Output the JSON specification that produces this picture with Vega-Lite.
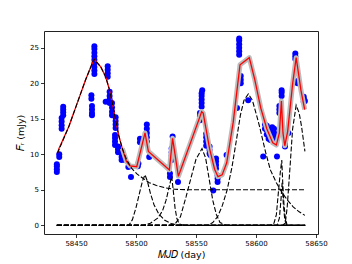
{
 "$schema": "https://vega.github.io/schema/vega-lite/v6.json",
 "width": 274,
 "height": 203,
 "autosize": {"type": "none"},
 "padding": {"left": 44, "top": 31, "right": 34, "bottom": 30},
 "background": "white",
 "config": {
  "view": {"stroke": "#222", "strokeWidth": 1},
  "font": "DejaVu Sans",
  "axis": {"grid": false, "domain": false, "tickColor": "#000", "tickSize": 3.5, "tickWidth": 0.8, "labelFont": "DejaVu Sans", "labelFontSize": 7, "labelColor": "#000", "labelPadding": 2, "titleFont": "DejaVu Sans", "titleFontSize": 9.5, "titleFontWeight": "normal", "titleColor": "#000"}
 },
 "datasets": {
  "obs": [
   {"mjd":58434,"f":7.5},{"mjd":58434,"f":7.9},{"mjd":58434,"f":8.3},{"mjd":58434,"f":8.6},
   {"mjd":58436,"f":9.6},{"mjd":58436,"f":10.0},
   {"mjd":58438,"f":13.6},{"mjd":58438,"f":14.1},{"mjd":58438,"f":14.6},{"mjd":58438,"f":15.1},
   {"mjd":58439.3,"f":15.5},{"mjd":58439.3,"f":15.9},{"mjd":58439.3,"f":16.3},{"mjd":58439.3,"f":16.7},
   {"mjd":58462.8,"f":17.8},{"mjd":58462.8,"f":18.3},
   {"mjd":58463.3,"f":15.5},{"mjd":58463.3,"f":15.8},{"mjd":58463.3,"f":16.3},{"mjd":58463.3,"f":16.8},
   {"mjd":58465.3,"f":21.3},{"mjd":58465.3,"f":21.8},{"mjd":58465.3,"f":22.3},{"mjd":58465.3,"f":22.8},{"mjd":58465.3,"f":23.3},{"mjd":58465.3,"f":23.8},{"mjd":58465.3,"f":24.3},{"mjd":58465.3,"f":24.8},{"mjd":58465.3,"f":25.2},
   {"mjd":58474.7,"f":17.4},
   {"mjd":58476.4,"f":20.9},{"mjd":58476.4,"f":21.4},{"mjd":58476.4,"f":21.9},{"mjd":58476.4,"f":22.4},
   {"mjd":58478,"f":17.2},{"mjd":58478,"f":17.7},{"mjd":58478,"f":18.2},{"mjd":58478,"f":18.8},
   {"mjd":58480,"f":15.5},{"mjd":58480,"f":16.0},{"mjd":58480,"f":16.6},{"mjd":58480,"f":17.2},
   {"mjd":58483,"f":13.7},{"mjd":58483,"f":14.2},{"mjd":58483,"f":14.7},{"mjd":58483,"f":15.2},
   {"mjd":58482.5,"f":11.3},{"mjd":58482.5,"f":11.8},{"mjd":58482.5,"f":12.3},{"mjd":58482.5,"f":12.7},
   {"mjd":58485,"f":10.3},{"mjd":58485,"f":10.7},{"mjd":58485,"f":11.1},
   {"mjd":58488,"f":9.2},{"mjd":58488,"f":9.6},{"mjd":58488,"f":10.1},
   {"mjd":58490.8,"f":9.2},
   {"mjd":58493.6,"f":8.2},
   {"mjd":58495.8,"f":6.8},
   {"mjd":58501.5,"f":8.3},{"mjd":58502,"f":8.7},
   {"mjd":58503.3,"f":11.7},{"mjd":58503.3,"f":12.2},
   {"mjd":58509,"f":11.8},{"mjd":58509,"f":12.4},{"mjd":58509,"f":13.0},{"mjd":58509,"f":13.6},{"mjd":58509,"f":14.2},
   {"mjd":58511,"f":9.6},
   {"mjd":58528.3,"f":6.8},{"mjd":58528.3,"f":7.3},
   {"mjd":58529.7,"f":9.2},{"mjd":58529.7,"f":9.8},{"mjd":58529.7,"f":10.3},{"mjd":58529.7,"f":10.8},
   {"mjd":58530.5,"f":12.5},
   {"mjd":58535,"f":6.1},
   {"mjd":58553.3,"f":14.8},{"mjd":58553.3,"f":15.3},{"mjd":58553.3,"f":15.8},
   {"mjd":58554.7,"f":16.7},{"mjd":58554.7,"f":17.2},{"mjd":58554.7,"f":17.7},{"mjd":58554.7,"f":18.2},{"mjd":58554.7,"f":18.6},
   {"mjd":58555.2,"f":19.0},
   {"mjd":58558.5,"f":11.2},{"mjd":58558.5,"f":11.8},{"mjd":58558.5,"f":12.4},{"mjd":58558.5,"f":12.9},
   {"mjd":58561.3,"f":10.1},{"mjd":58561.3,"f":10.6},{"mjd":58561.3,"f":11.1},
   {"mjd":58562,"f":9.9},
   {"mjd":58564.4,"f":4.9},
   {"mjd":58566.7,"f":8.0},{"mjd":58566.7,"f":8.5},{"mjd":58566.7,"f":9.0},{"mjd":58566.7,"f":9.4},
   {"mjd":58568,"f":6.1},{"mjd":58568,"f":6.6},{"mjd":58568,"f":7.0},
   {"mjd":58575.5,"f":9.9},
   {"mjd":58584.2,"f":16.5},
   {"mjd":58586,"f":24.0},{"mjd":58586,"f":24.5},{"mjd":58586,"f":25.0},{"mjd":58586,"f":25.5},{"mjd":58586,"f":26.0},{"mjd":58586,"f":26.3},
   {"mjd":58587.3,"f":20.0},{"mjd":58587.3,"f":20.5},{"mjd":58587.3,"f":21.0},
   {"mjd":58593.5,"f":17.6},
   {"mjd":58606,"f":9.7},
   {"mjd":58607.5,"f":13.6},{"mjd":58607.5,"f":14.2},
   {"mjd":58609,"f":12.8},{"mjd":58609,"f":13.4},{"mjd":58609,"f":14.0},
   {"mjd":58610.5,"f":12.2},{"mjd":58610.5,"f":12.8},{"mjd":58610.5,"f":13.4},
   {"mjd":58612,"f":12.0},{"mjd":58612,"f":12.6},{"mjd":58612,"f":13.2},
   {"mjd":58613.5,"f":12.0},{"mjd":58613.5,"f":12.6},{"mjd":58613.5,"f":13.2},{"mjd":58613.5,"f":13.8},
   {"mjd":58615,"f":11.8},{"mjd":58615,"f":12.4},{"mjd":58615,"f":13.0},{"mjd":58615,"f":13.6},
   {"mjd":58616.3,"f":12.2},{"mjd":58616.3,"f":12.8},
   {"mjd":58617.5,"f":9.7},
   {"mjd":58619.5,"f":15.8},{"mjd":58619.5,"f":16.3},{"mjd":58619.5,"f":16.8},
   {"mjd":58621.4,"f":18.2},{"mjd":58621.4,"f":18.7},{"mjd":58621.4,"f":19.0},
   {"mjd":58624.2,"f":11.1},{"mjd":58624.2,"f":11.6},{"mjd":58624.2,"f":12.1},{"mjd":58624.2,"f":12.6},{"mjd":58624.2,"f":13.0},
   {"mjd":58627,"f":13.0},
   {"mjd":58632.8,"f":23.4},{"mjd":58632.8,"f":23.8},{"mjd":58632.8,"f":24.2},
   {"mjd":58634.6,"f":20.0},{"mjd":58634.6,"f":20.3},
   {"mjd":58639.8,"f":17.4},{"mjd":58639.8,"f":17.8},{"mjd":58639.8,"f":18.1},
   {"mjd":58640.8,"f":17.5}
  ],
  "model": [
   {"mjd":58434.4,"f":10.1},{"mjd":58435.8,"f":10.8},{"mjd":58444,"f":13.9},{"mjd":58451,"f":17.2},{"mjd":58458,"f":20.5},{"mjd":58465,"f":23.4},{"mjd":58470.6,"f":22.3},{"mjd":58474.7,"f":20.9},{"mjd":58477.5,"f":19.3},{"mjd":58480.3,"f":17.2},{"mjd":58483,"f":14.8},{"mjd":58485.8,"f":12.5},{"mjd":58488.6,"f":10.8},{"mjd":58492,"f":9.0},{"mjd":58495,"f":8.35},{"mjd":58500.6,"f":8.25},{"mjd":58507.5,"f":13.0},{"mjd":58510.3,"f":10.4},{"mjd":58527.8,"f":7.8},{"mjd":58530.5,"f":12.25},{"mjd":58535.3,"f":6.9},{"mjd":58553.3,"f":15.3},{"mjd":58554.7,"f":16.0},{"mjd":58556,"f":15.8},{"mjd":58561.3,"f":10.8},{"mjd":58565.5,"f":7.9},{"mjd":58568.3,"f":6.85},{"mjd":58571.8,"f":7.1},{"mjd":58575.6,"f":8.8},{"mjd":58581,"f":14.5},{"mjd":58586.7,"f":22.6},{"mjd":58594.4,"f":23.6},{"mjd":58599,"f":20.5},{"mjd":58604,"f":16.5},{"mjd":58609,"f":13.6},{"mjd":58614,"f":11.6},{"mjd":58617,"f":11.3},{"mjd":58619.5,"f":13.0},{"mjd":58621.2,"f":17.5},{"mjd":58622.5,"f":13.0},{"mjd":58624,"f":11.2},{"mjd":58626.4,"f":13.2},{"mjd":58630.6,"f":20.0},{"mjd":58633.5,"f":23.6},{"mjd":58637.5,"f":19.0},{"mjd":58640.6,"f":16.3}
  ],
  "comp": [
   {"c":"c0","mjd":58434,"f":0},{"c":"c0","mjd":58641,"f":0},
   {"c":"c1","mjd":58434.4,"f":10.1},{"c":"c1","mjd":58444,"f":13.9},{"c":"c1","mjd":58451,"f":17.2},{"c":"c1","mjd":58458,"f":20.5},{"c":"c1","mjd":58465,"f":23.4},{"c":"c1","mjd":58470.6,"f":22.3},{"c":"c1","mjd":58474.7,"f":20.9},{"c":"c1","mjd":58477.5,"f":19.3},{"c":"c1","mjd":58480.3,"f":17.2},{"c":"c1","mjd":58483,"f":14.8},{"c":"c1","mjd":58485.8,"f":12.5},{"c":"c1","mjd":58488.6,"f":10.8},{"c":"c1","mjd":58492,"f":9.3},{"c":"c1","mjd":58496.4,"f":8.0},{"c":"c1","mjd":58501,"f":7.2},{"c":"c1","mjd":58506,"f":6.6},{"c":"c1","mjd":58511,"f":6.0},{"c":"c1","mjd":58517,"f":5.6},{"c":"c1","mjd":58525,"f":5.25},{"c":"c1","mjd":58532.5,"f":5.07},{"c":"c1","mjd":58545,"f":5.0},{"c":"c1","mjd":58640.5,"f":5.0},
   {"c":"c2","mjd":58434,"f":0},{"c":"c2","mjd":58494,"f":0},{"c":"c2","mjd":58497,"f":0.8},{"c":"c2","mjd":58500,"f":2.5},{"c":"c2","mjd":58503,"f":4.6},{"c":"c2","mjd":58505.5,"f":6.3},{"c":"c2","mjd":58507.5,"f":7.1},{"c":"c2","mjd":58509.5,"f":6.2},{"c":"c2","mjd":58512,"f":4.5},{"c":"c2","mjd":58515,"f":2.9},{"c":"c2","mjd":58519,"f":1.6},{"c":"c2","mjd":58524,"f":0.7},{"c":"c2","mjd":58530,"f":0.2},{"c":"c2","mjd":58536,"f":0},{"c":"c2","mjd":58641,"f":0},
   {"c":"c3","mjd":58434,"f":0},{"c":"c3","mjd":58506,"f":0},{"c":"c3","mjd":58512,"f":0.3},{"c":"c3","mjd":58518,"f":1.0},{"c":"c3","mjd":58522,"f":2.0},{"c":"c3","mjd":58525,"f":3.5},{"c":"c3","mjd":58527.5,"f":5.3},{"c":"c3","mjd":58529.7,"f":6.9},{"c":"c3","mjd":58531,"f":5.0},{"c":"c3","mjd":58532.5,"f":2.5},{"c":"c3","mjd":58534,"f":1.0},{"c":"c3","mjd":58536,"f":0.2},{"c":"c3","mjd":58540,"f":0},{"c":"c3","mjd":58641,"f":0},
   {"c":"c4","mjd":58434,"f":0},{"c":"c4","mjd":58528,"f":0},{"c":"c4","mjd":58533,"f":0.3},{"c":"c4","mjd":58537,"f":1.2},{"c":"c4","mjd":58541.7,"f":4.0},{"c":"c4","mjd":58546,"f":6.8},{"c":"c4","mjd":58550,"f":9.3},{"c":"c4","mjd":58555,"f":10.8},{"c":"c4","mjd":58558,"f":9.5},{"c":"c4","mjd":58561,"f":6.5},{"c":"c4","mjd":58564,"f":3.5},{"c":"c4","mjd":58567,"f":1.5},{"c":"c4","mjd":58570,"f":0.4},{"c":"c4","mjd":58575,"f":0},{"c":"c4","mjd":58641,"f":0},
   {"c":"c5","mjd":58434,"f":0},{"c":"c5","mjd":58560,"f":0},{"c":"c5","mjd":58564,"f":0.4},{"c":"c5","mjd":58568,"f":1.2},{"c":"c5","mjd":58572,"f":2.8},{"c":"c5","mjd":58576,"f":5.0},{"c":"c5","mjd":58580,"f":8.2},{"c":"c5","mjd":58583.5,"f":11.8},{"c":"c5","mjd":58587,"f":15.5},{"c":"c5","mjd":58590,"f":17.6},{"c":"c5","mjd":58593.6,"f":18.5},{"c":"c5","mjd":58597,"f":17.6},{"c":"c5","mjd":58600,"f":15.8},{"c":"c5","mjd":58603,"f":13.9},{"c":"c5","mjd":58608,"f":10.3},{"c":"c5","mjd":58612,"f":7.8},{"c":"c5","mjd":58617,"f":6.0},{"c":"c5","mjd":58621,"f":4.8},{"c":"c5","mjd":58626,"f":3.6},{"c":"c5","mjd":58631,"f":2.6},{"c":"c5","mjd":58636,"f":1.9},{"c":"c5","mjd":58640.8,"f":1.4},
   {"c":"c6","mjd":58434,"f":0},{"c":"c6","mjd":58612,"f":0},{"c":"c6","mjd":58615,"f":0.3},{"c":"c6","mjd":58617,"f":1.5},{"c":"c6","mjd":58618.6,"f":4.5},{"c":"c6","mjd":58620.3,"f":7.5},{"c":"c6","mjd":58621.5,"f":9.2},{"c":"c6","mjd":58622.3,"f":6.0},{"c":"c6","mjd":58623.3,"f":3.0},{"c":"c6","mjd":58624.5,"f":1.0},{"c":"c6","mjd":58626,"f":0},{"c":"c6","mjd":58641,"f":0},
   {"c":"c7","mjd":58434,"f":0},{"c":"c7","mjd":58617.5,"f":0},{"c":"c7","mjd":58619.5,"f":1.0},{"c":"c7","mjd":58620.8,"f":3.5},{"c":"c7","mjd":58621.8,"f":6.0},{"c":"c7","mjd":58622.8,"f":3.0},{"c":"c7","mjd":58624,"f":0.8},{"c":"c7","mjd":58625.5,"f":0},{"c":"c7","mjd":58641,"f":0},
   {"c":"c8","mjd":58434,"f":0},{"c":"c8","mjd":58622,"f":0},{"c":"c8","mjd":58624.4,"f":0.3},{"c":"c8","mjd":58626,"f":2.5},{"c":"c8","mjd":58628.5,"f":8.5},{"c":"c8","mjd":58630.5,"f":13.5},{"c":"c8","mjd":58633.5,"f":16.9},{"c":"c8","mjd":58636,"f":15.8},{"c":"c8","mjd":58638,"f":13.9},{"c":"c8","mjd":58640.8,"f":10.4}
  ]
 },
 "encoding": {
  "x": {"field": "mjd", "type": "quantitative", "scale": {"domain": [58423.3, 58651.7], "nice": false, "zero": false},
        "axis": {"values": [58450, 58500, 58550, 58600, 58650], "format": "d", "title": "𝑀𝐽𝐷 (day)", "titlePadding": 3, "labelFlush": false}},
  "y": {"field": "f", "type": "quantitative", "scale": {"domain": [-1.22, 27.35], "nice": false, "zero": false},
        "axis": {"values": [0, 5, 10, 15, 20, 25], "title": "𝐹ᵣ (mJy)", "titlePadding": 4}}
 },
 "layer": [
  {"data": {"name": "obs"}, "mark": {"type": "point", "filled": true, "color": "#0000ff", "opacity": 1, "size": 36}},
  {"data": {"name": "model"}, "transform": [{"filter": "datum.mjd >= 58488"}], "mark": {"type": "line", "color": "#bcbcbc", "strokeWidth": 5, "strokeJoin": "round"}},
  {"data": {"name": "model"}, "mark": {"type": "line", "color": "#ff0000", "strokeWidth": 1.3}},
  {"data": {"name": "comp"}, "mark": {"type": "line", "color": "#000000", "strokeWidth": 1.1, "strokeDash": [5, 2]}, "encoding": {"detail": {"field": "c"}}}
 ]
}
